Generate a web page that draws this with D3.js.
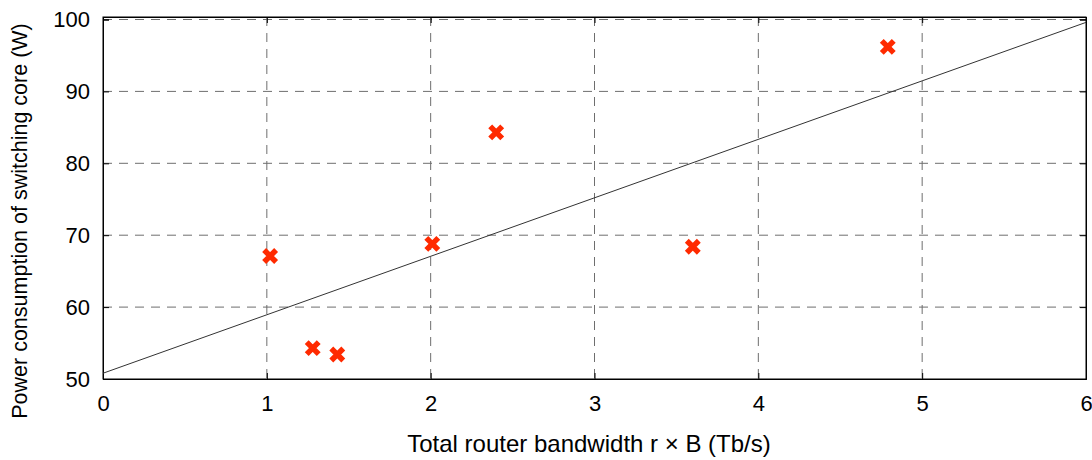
<!DOCTYPE html>
<html>
<head>
<meta charset="utf-8">
<script src="https://cdn.jsdelivr.net/npm/d3@7"></script>
<style>
	body { margin: 0; background: #fff; }
	text { font-family: "Liberation Sans", Arial, sans-serif; fill: #000; }
	.grid line { stroke: #6e6e6e; stroke-width: 1; stroke-dasharray: 9, 7; }
	.axis path, .axis line { stroke: #000; }
</style>
</head>
<body>
<div id="chart"></div>
<script>
// measured points
var bandwidth = [1.02, 1.28, 1.43, 2.01, 2.40, 3.60, 4.79];
var power = [67.1, 54.3, 53.4, 68.8, 84.3, 68.4, 96.2];

// fitted line endpoints
var fitX = [0, 6];
var fitY = [50.8, 99.6];

var xTicks = [0, 1, 2, 3, 4, 5, 6];
var yTicks = [50, 60, 70, 80, 90, 100];

var margin = { top: 17, right: 6, bottom: 81, left: 103 },
	W = 1092, H = 460,
	width = W - margin.left - margin.right,
	height = H - margin.top - margin.bottom;

var svg = d3.select('#chart').append('svg')
	.attr('width', W)
	.attr('height', H);

var g = svg.append('g')
	.attr('transform', 'translate(' + margin.left + ',' + margin.top + ')');

var x = d3.scaleLinear().domain([0, 6]).range([0, width]);
var y = d3.scaleLinear().domain([50, 100]).range([height, 2.5]);

// grid
var grid = g.append('g').attr('class', 'grid');
grid.selectAll('.gx')
	.data(xTicks.slice(1, -1))
	.enter().append('line')
	.attr('x1', function(d) { return x(d); })
	.attr('x2', function(d) { return x(d); })
	.attr('y1', 0)
	.attr('y2', height);
grid.selectAll('.gy')
	.data(yTicks.slice(1))
	.enter().append('line')
	.attr('x1', 0)
	.attr('x2', width)
	.attr('y1', function(d) { return y(d); })
	.attr('y2', function(d) { return y(d); });

// axes (ticks point inward)
g.append('g')
	.attr('class', 'axis')
	.attr('transform', 'translate(0,' + height + ')')
	.call(d3.axisBottom(x).tickValues(xTicks).tickFormat(d3.format('d')).tickSize(-6).tickPadding(16))
	.call(function(a) { a.selectAll('text').style('font-size', '22px'); });

g.append('g')
	.attr('class', 'axis')
	.call(d3.axisLeft(y).tickValues(yTicks).tickSize(-6).tickPadding(13))
	.call(function(a) { a.selectAll('text').style('font-size', '22px'); });

g.append('g')
	.attr('class', 'axis')
	.attr('transform', 'translate(' + width + ',0)')
	.call(d3.axisRight(y).tickValues(yTicks).tickSize(-6).tickFormat(''));

g.append('g')
	.attr('class', 'axis')
	.call(d3.axisTop(x).tickValues(xTicks).tickSize(-6).tickFormat(''));

g.append('rect')
	.attr('width', width)
	.attr('height', height)
	.attr('fill', 'none')
	.attr('stroke', '#000')
	.attr('stroke-width', 1);

// fit line
g.append('line')
	.attr('x1', x(fitX[0]))
	.attr('y1', y(fitY[0]))
	.attr('x2', x(fitX[1]))
	.attr('y2', y(fitY[1]))
	.attr('stroke', '#333')
	.attr('stroke-width', 1);

// markers
g.selectAll('.pt')
	.data(bandwidth)
	.enter().append('path')
	.attr('class', 'pt')
	.attr('transform', function(d, i) { return 'translate(' + x(d) + ',' + y(power[i]) + ')'; })
	.attr('d', 'M-6,-6L6,6M-6,6L6,-6')
	.attr('stroke', '#ff2a00')
	.attr('stroke-width', 5.5)
	.attr('fill', 'none');

// labels
svg.append('text')
	.attr('x', 589)
	.attr('y', 452)
	.attr('text-anchor', 'middle')
	.style('font-size', '24px')
	.text('Total router bandwidth r \u00d7 B (Tb/s)');

svg.append('text')
	.attr('transform', 'translate(27,221) rotate(-90)')
	.attr('text-anchor', 'middle')
	.style('font-size', '21.5px')
	.text('Power consumption of switching core (W)');
</script>
</body>
</html>
